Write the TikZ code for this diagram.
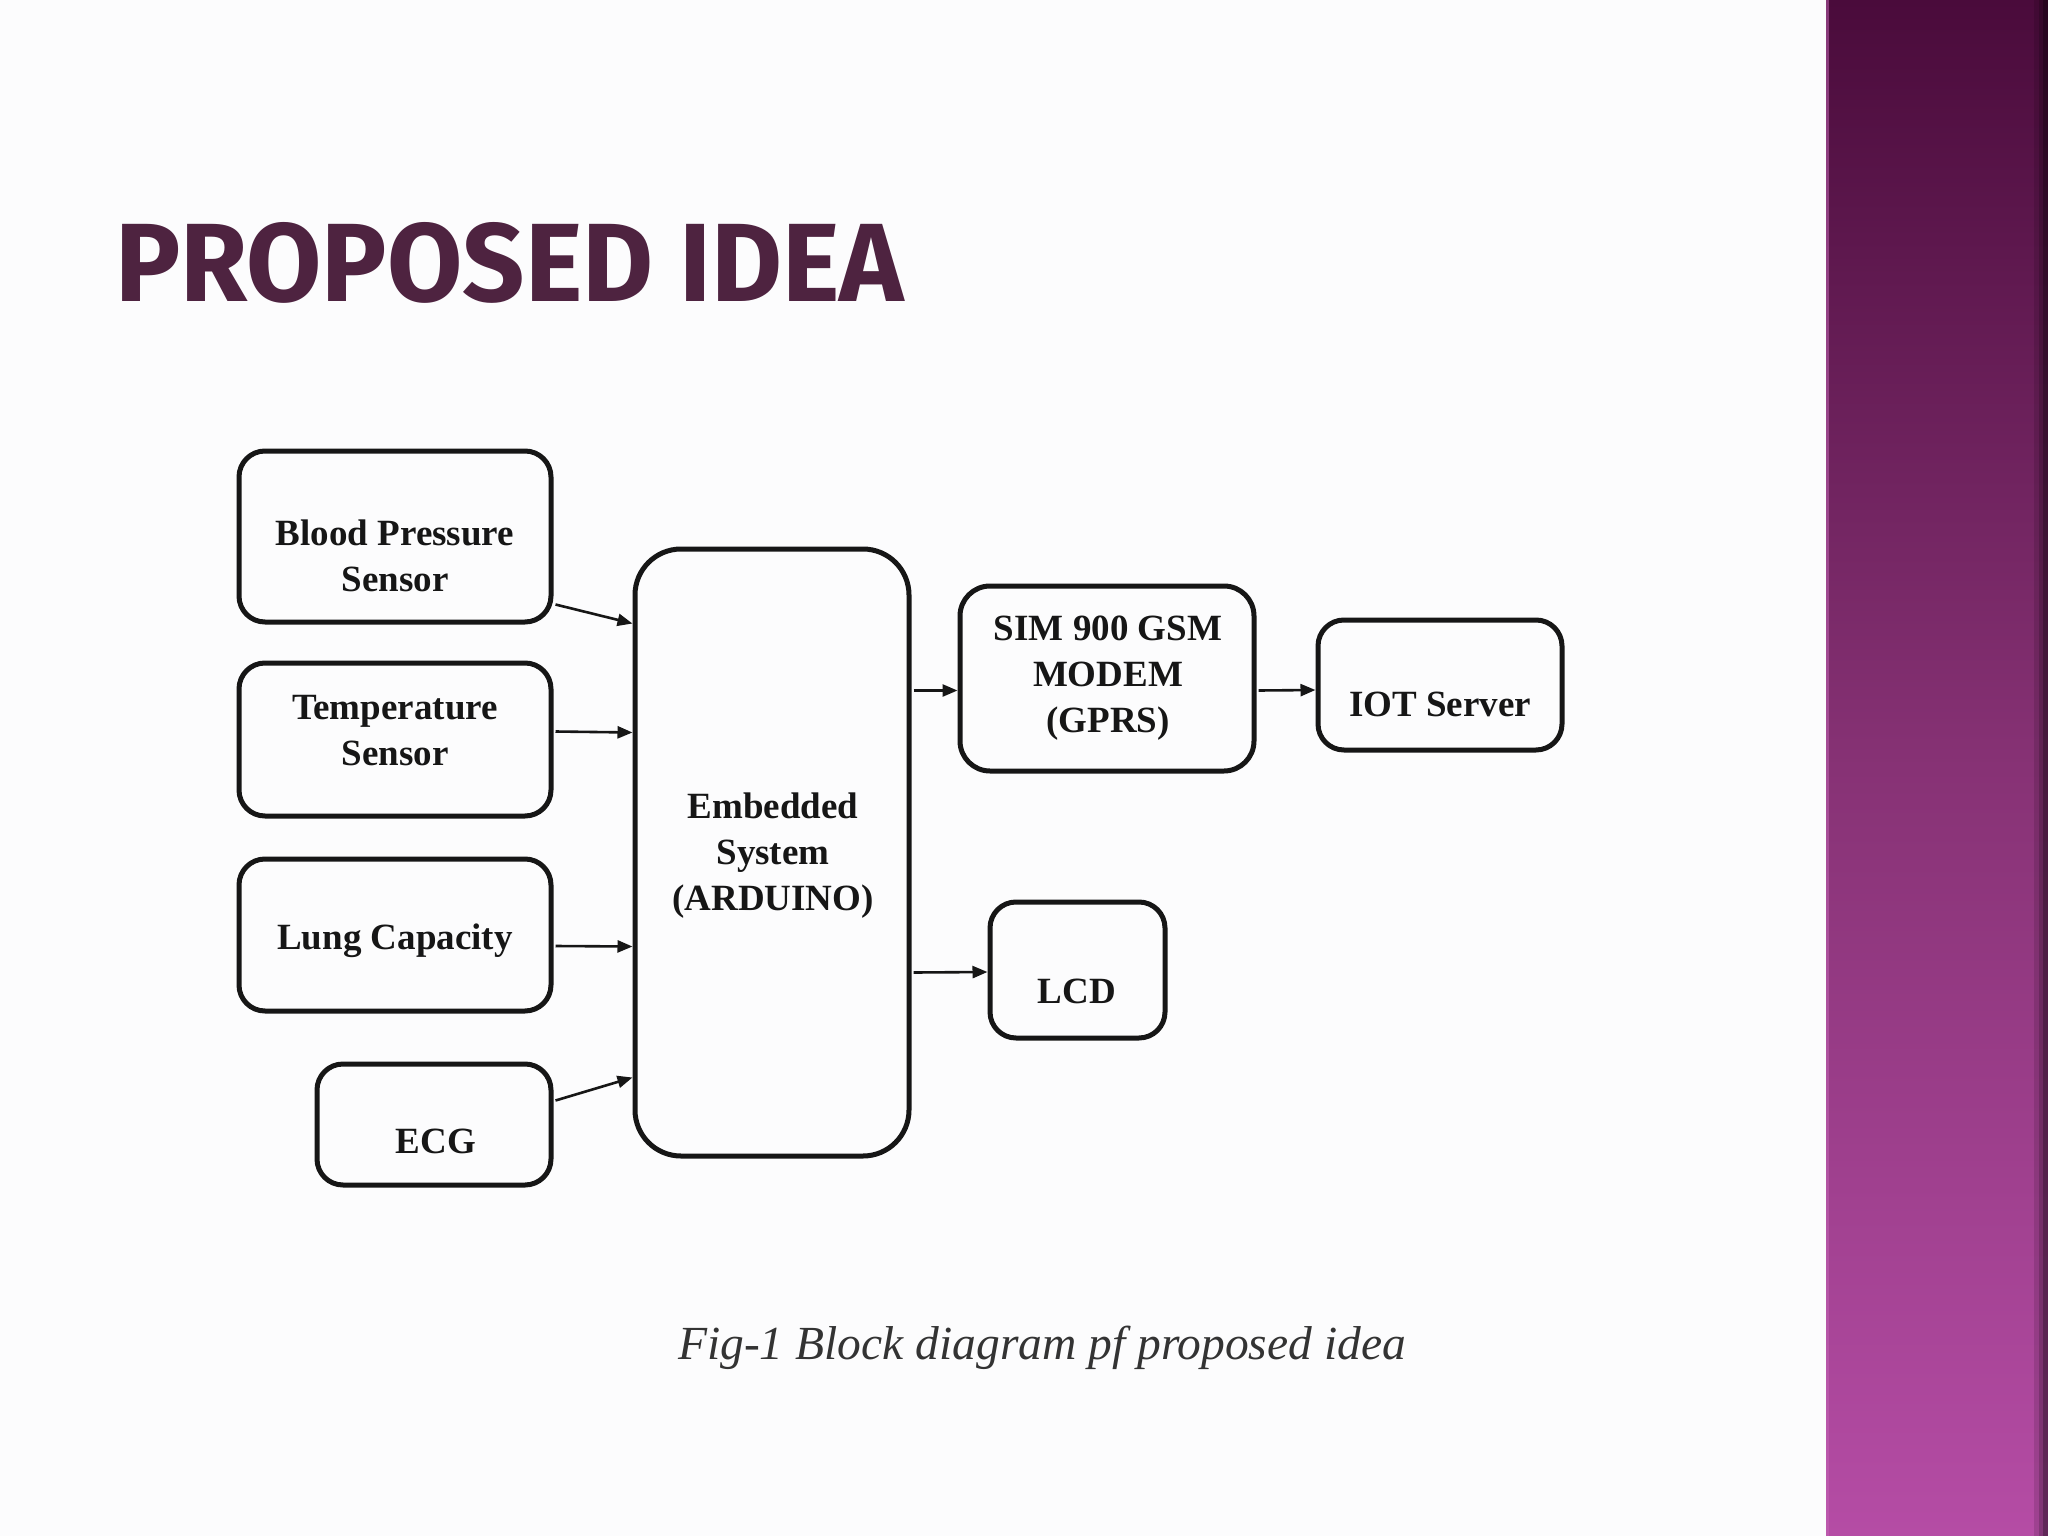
\documentclass[tikz,border=0pt]{standalone}
\usepackage{graphicx}
\usepackage{fontspec}
\setmainfont{Liberation Serif}
\newfontfamily\titlefont{Fira Sans}
\usetikzlibrary{arrows.meta,calc}
\definecolor{titleplum}{HTML}{4E2340}
\definecolor{pagebg}{HTML}{FCFCFD}
\definecolor{barTop}{HTML}{4A0B3B}
\definecolor{barMid}{HTML}{873275}
\definecolor{barBot}{HTML}{B54CA5}
\definecolor{barEdge}{HTML}{C466B6}
\definecolor{inkc}{HTML}{161616}
\begin{document}
\begin{tikzpicture}[x=1pt,y=-1pt,
  blk/.style={draw=inkc, line width=5pt, rounded corners=26pt, inner sep=0pt},
  lbl/.style={font=\fontsize{37}{46}\selectfont\bfseries, align=center, inner sep=0pt, text=inkc},
  arr/.style={line width=2.6pt, draw=inkc, -{Triangle[length=15pt,width=12pt]}},
]
\useasboundingbox (0,0) rectangle (2048,1536);
\fill[pagebg] (0,0) rectangle (1826,1536);
\shade[top color=barTop, bottom color=barBot, middle color=barMid] (1826,0) rectangle (2048,1536);
\fill[black, fill opacity=0.12] (2034,0) rectangle (2048,1536);
\fill[black, fill opacity=0.18] (2039,0) rectangle (2048,1536);
\fill[black, fill opacity=0.25] (2043,0) rectangle (2048,1536);
\fill[barEdge, fill opacity=0.5] (1826,0) rectangle (1829,1536);

% title
\node[anchor=south west, inner sep=0pt, text=titleplum] (title) at (115,304)
  {\resizebox{789pt}{79pt}{\titlefont\bfseries PROPOSED IDEA}};

% boxes
\node[blk, minimum width=312pt, minimum height=171pt] (bp) at (395,536.5) {};
\node[blk, minimum width=312pt, minimum height=153pt] (temp) at (395,739.5) {};
\node[blk, minimum width=312pt, minimum height=152pt] (lung) at (395,935) {};
\node[blk, minimum width=234pt, minimum height=121pt] (ecg) at (434,1124.5) {};
\node[blk, minimum width=274pt, minimum height=607pt, rounded corners=46pt] (emb) at (772,852.5) {};
\node[blk, minimum width=294pt, minimum height=185pt, rounded corners=30pt] (sim) at (1107,678.5) {};
\node[blk, minimum width=244pt, minimum height=130pt] (iot) at (1440,685) {};
\node[blk, minimum width=175pt, minimum height=136pt] (lcd) at (1077.5,970) {};

% labels
\node[lbl] (bpT) at (395,556) {Blood Pressure\\Sensor};
\node[lbl] (tempT) at (395,731) {Temperature\\Sensor};
\node[lbl] (lungT) at (395,941) {Lung Capacity};
\node[lbl] (ecgT) at (436,1141) {ECG};
\node[lbl] (embT) at (773,856) {Embedded\\System\\(ARDUINO)};
\node[lbl] (simT) at (1108,678) {SIM 900 GSM\\MODEM\\(GPRS)};
\node[lbl] (iotT) at (1440,704) {IOT Server};
\node[lbl] (lcdT) at (1077,991) {LCD};

% connectors
\draw[arr] ($(bp.east)+(2,68)$) -- ($(emb.west)+(0,-229)$);
\draw[arr] ($(temp.east)+(2,-8)$) -- ($(emb.west)+(0,-120)$);
\draw[arr] ($(lung.east)+(2,11)$) -- ($(emb.west)+(0,94)$);
\draw[arr] ($(ecg.east)+(2,-24)$) -- ($(emb.west)+(0,225)$);
\draw[arr] ($(emb.east)+(2,-162)$) -- ($(sim.west)+(0,12)$);
\draw[arr] ($(sim.east)+(2,12)$) -- ($(iot.west)+(0,5)$);
\draw[arr] ($(emb.east)+(2,120)$) -- ($(lcd.west)+(0,2)$);

% caption
\node[font=\fontsize{47.5}{50}\selectfont\itshape, text=black!80, anchor=base, inner sep=0pt] (cap) at (1042,1359)
  {Fig-1 Block diagram pf proposed idea};
\end{tikzpicture}
\end{document}
